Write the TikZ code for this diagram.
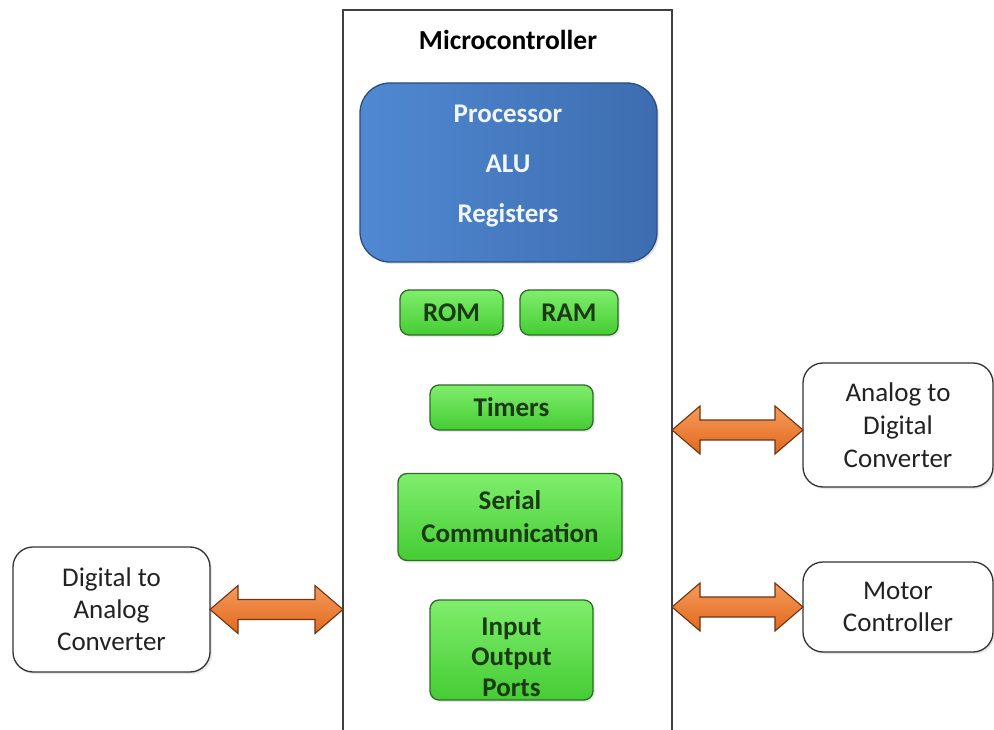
\documentclass[tikz,border=0pt]{standalone}
\usepackage{fontspec}
\setmainfont{Carlito}
\usetikzlibrary{calc,shadows}
\definecolor{blueA}{HTML}{5089D2}
\definecolor{blueB}{HTML}{3D6DB0}
\definecolor{blueEdge}{HTML}{2B4E80}
\definecolor{greenA}{HTML}{7FEE6C}
\definecolor{greenB}{HTML}{45CC34}
\definecolor{greenEdge}{HTML}{2F6A27}
\definecolor{greenText}{HTML}{1B3A15}
\definecolor{orA}{HTML}{F59A5A}
\definecolor{orB}{HTML}{E2691E}
\definecolor{orEdge}{HTML}{6E3512}
\definecolor{grayText}{HTML}{222222}
\tikzset{
  every node/.style={inner sep=0pt, outer sep=0pt},
  txt/.style={font=\fontsize{27}{32}\selectfont, align=center, text=grayText},
  outerbox/.style={draw=black!80, line width=1.3pt, rounded corners=20pt, fill=white,
     drop shadow={opacity=0.18, shadow xshift=2pt, shadow yshift=-2pt}},
  procbox/.style={draw=blueEdge, line width=1.3pt, rounded corners=30pt,
     left color=blueA, right color=blueB,
     drop shadow={opacity=0.2, shadow xshift=2pt, shadow yshift=-2pt}},
  greenbox/.style={draw=greenEdge, line width=1.3pt, rounded corners=9pt,
     top color=greenA, bottom color=greenB, text=greenText,
     font=\fontsize{27}{31}\selectfont\bfseries, align=center,
     drop shadow={opacity=0.18, shadow xshift=2pt, shadow yshift=-2pt}},
  greentext/.style={text=greenText, font=\fontsize{27}{30.5}\selectfont\bfseries, align=center},
  bigarrow/.style={draw=orEdge, line width=1.1pt, line join=miter,
     top color=orA, bottom color=orB},
}
\newcommand\dblarr[2]{%
  \draw[bigarrow] let \p1=(#1), \p2=(#2) in
    (\x1,\y1) -- (\x1+28pt,\y1+24pt) -- (\x1+28pt,\y1+10pt) -- (\x2-28pt,\y1+10pt)
    -- (\x2-28pt,\y1+24pt) -- (\x2,\y1) -- (\x2-28pt,\y1-24pt) -- (\x2-28pt,\y1-10pt)
    -- (\x1+28pt,\y1-10pt) -- (\x1+28pt,\y1-24pt) -- cycle;}
\begin{document}
\begin{tikzpicture}[x=1pt,y=-1pt]
\useasboundingbox[fill=white] (0,0) rectangle (994,730);
% microcontroller frame (open at bottom)
\node (mc) [minimum width=329pt, minimum height=760pt] at (507.5,390) {};
\draw[black!75, line width=1.3pt] (mc.south west) -- (mc.north west) -- (mc.north east) -- (mc.south east);
\node (mctitle) [font=\fontsize{27.5}{32}\selectfont\bfseries, text=black] at (508,40) {Microcontroller};
% processor
\node (proc) [procbox, minimum width=297pt, minimum height=179pt] at (508.5,172.5) {};
\node (proctext) [font=\fontsize{27}{50}\selectfont\bfseries, text=white!92!blueA, align=center] at (508,166) {Processor\\ALU\\Registers};
% green blocks
\node (rom) [greenbox, minimum width=103pt, minimum height=45pt] at (451.5,312.5) {ROM};
\node (ram) [greenbox, minimum width=98pt, minimum height=45pt] at (569,312.5) {RAM};
\node (tim) [greenbox, minimum width=163pt, minimum height=45pt] at (511.5,407.5) {Timers};
\node (ser) [greenbox, minimum width=224pt, minimum height=87pt, font=\fontsize{27}{33}\selectfont\bfseries] at (510,517) {Serial\\Communication};
\node (io) [greenbox, minimum width=163pt, minimum height=100pt] at (511.5,650) {};
\node (iotext) [greentext] at (511.5,657) {Input\\Output\\Ports};
% outer blocks
\node (dac) [outerbox, txt, minimum width=197pt, minimum height=125pt] at (111.5,609.5) {Digital to\\Analog\\Converter};
\node (adc) [outerbox, txt, minimum width=190pt, minimum height=124pt, font=\fontsize{27}{33}\selectfont] at (898,425) {Analog to\\Digital\\Converter};
\node (mot) [outerbox, txt, minimum width=190pt, minimum height=90pt] at (898,607) {Motor\\Controller};
% arrows
\coordinate (adcy) at (0,430);
\dblarr{mc.east |- adcy}{adc.west |- adcy}
\dblarr{mc.east |- mot.west}{mot.west}
\dblarr{dac.east}{mc.west |- dac.east}
\end{tikzpicture}
\end{document}
